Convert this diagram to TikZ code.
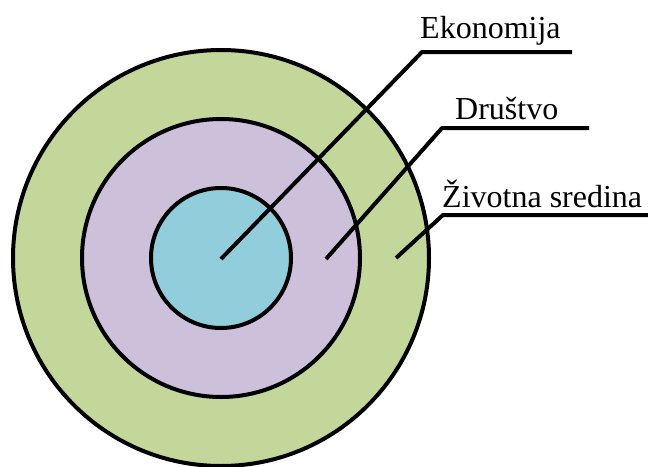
\documentclass[tikz,border=0pt]{standalone}
\usepackage{fontspec}
\setmainfont{Liberation Serif}
\newfontfamily\labelfont{Liberation Serif}
\usepackage{xcolor}
\usetikzlibrary{positioning}

\definecolor{envgreen}{RGB}{196,215,155}
\definecolor{socpurple}{RGB}{204,192,218}
\definecolor{ecoblue}{RGB}{146,205,220}

\begin{document}
\begin{tikzpicture}[
    x=1pt, y=-1pt,
    every node/.style={font=\labelfont\fontsize{32}{38}\selectfont},
    ring/.style={circle, draw, line width=4pt, inner sep=0pt, outer sep=0pt},
    leader/.style={line width=4pt, line join=round},
    lbl/.style={anchor=base west, inner sep=0pt}
]
\useasboundingbox (0,0) rectangle (648,466);

% ── Rings ──
\node[ring, fill=envgreen,  minimum size=416pt] (env) at (221,258) {};
\node[ring, fill=socpurple, minimum size=278pt] (soc) at (env.center) {};
\node[ring, fill=ecoblue,   minimum size=140pt] (eco) at (env.center) {};

% ── Leader points ──
\coordinate (ekostart) at (221,259);
\coordinate (ekoknee)  at (422,52);
\coordinate (ekoend)   at (572,52);
\coordinate (drustart) at (326,259);
\coordinate (druknee)  at (442,128);
\coordinate (druend)   at (589,128);
\coordinate (zivstart) at (396,258);
\coordinate (zivknee)  at (443,215);
\coordinate (zivend)   at (648,215);

% ── Labels ──
\node[lbl] (ekolbl) at (420,38)  {Ekonomija};
\node[lbl] (drulbl) at (455,119) {Društvo};
\node[lbl] (zivlbl) at (442,207) {Životna sredina};

% ── Leaders ──
\draw[leader] (ekostart) -- (ekoknee) -- (ekoend);
\draw[leader] (drustart) -- (druknee) -- (druend);
\draw[leader] (zivstart) -- (zivknee) -- (zivend);

\end{tikzpicture}
\end{document}
